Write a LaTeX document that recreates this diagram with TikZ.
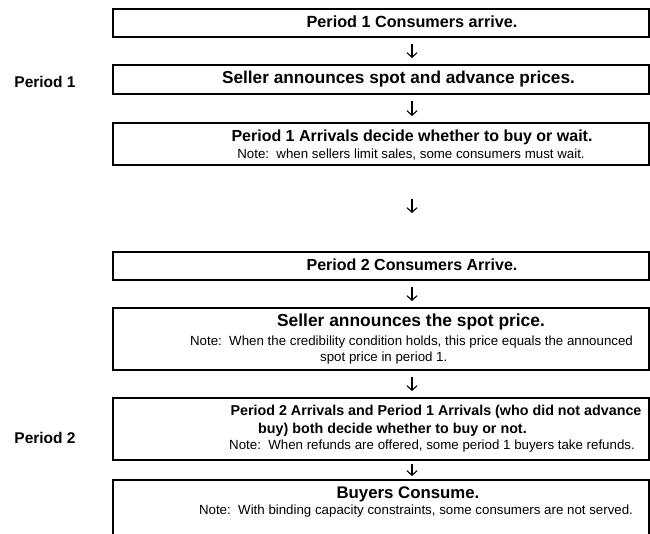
\documentclass[tikz,border=0pt]{standalone}
\usepackage{fontspec}
\setmainfont{Liberation Sans}
\usetikzlibrary{arrows.meta}
\tikzset{
  box/.style={draw, line width=1.6pt, minimum width=536pt, inner sep=0pt, anchor=north west},
  head/.style={font=\fontsize{#1}{#1}\selectfont\bfseries, inner sep=0pt},
  head/.default=16.2,
  note/.style={font=\fontsize{13.3}{15}\selectfont, inner sep=0pt},
  plabel/.style={font=\fontsize{15.5}{17}\selectfont\bfseries, inner sep=0pt},
  arr/.style={line width=1.1pt, -{Straight Barb[length=4.5pt,width=10pt]}, shorten <=6pt, shorten >=6pt}
}
\begin{document}
\begin{tikzpicture}[x=1pt,y=-1pt]
\useasboundingbox (0,0) rectangle (650,533);
% boxes
\node[box, minimum height=28pt] (b1) at (112,8) {};
\node[box, minimum height=29pt] (b2) at (112,64) {};
\node[box, minimum height=42pt] (b3) at (112,122) {};
\node[box, minimum height=28pt] (b4) at (112,251) {};
\node[box, minimum height=62pt] (b5) at (112,307) {};
\node[box, minimum height=62pt] (b6) at (112,397) {};
\node[box, minimum height=80pt] (b7) at (112,479) {};
% texts
\node[head] (t1) at (412,22) {Period 1 Consumers arrive.};
\node[head=17.2] (t2) at (398.5,79) {Seller announces spot and advance prices.};
\node[head=16] (t3a) at (412,137) {Period 1 Arrivals decide whether to buy or wait.};
\node[note] (t3b) at (411,155) {Note:~~when sellers limit sales, some consumers must wait.};
\node[head=16] (t4) at (412,265) {Period 2 Consumers Arrive.};
\node[head=17.4] (t5a) at (411,322) {Seller announces the spot price.};
\node[note] (t5b) at (411.5,342) {Note:~~When the credibility condition holds, this price equals the announced};
\node[note, anchor=west] (t5c) at (320,358) {spot price in period 1.};
\node[head=14.3] (t6a) at (436,412) {Period 2 Arrivals and Period 1 Arrivals (who did not advance};
\node[head=14.3, anchor=west] (t6b) at (258,430) {buy) both decide whether to buy or not.};
\node[note] (t6c) at (432,446) {Note:~~When refunds are offered, some period 1 buyers take refunds.};
\node[head=16.8] (t7a) at (408,494) {Buyers Consume.};
\node[note] (t7b) at (416,511) {Note:~~With binding capacity constraints, some consumers are not served.};
% period labels
\node[plabel] (p1) at (45,82) {Period 1};
\node[plabel] (p2) at (45,438) {Period 2};
% arrows
\coordinate (ax) at (412,0);
\draw[arr] (b1.south -| ax) -- (b2.north -| ax);
\draw[arr] (b2.south -| ax) -- (b3.north -| ax);
\draw[arr, shorten <=33pt, shorten >=38pt] (b3.south -| ax) -- (b4.north -| ax);
\draw[arr] (b4.south -| ax) -- (b5.north -| ax);
\draw[arr] (b5.south -| ax) -- (b6.north -| ax);
\draw[arr, shorten <=3pt, shorten >=3pt] (b6.south -| ax) -- (b7.north -| ax);
\end{tikzpicture}
\end{document}
